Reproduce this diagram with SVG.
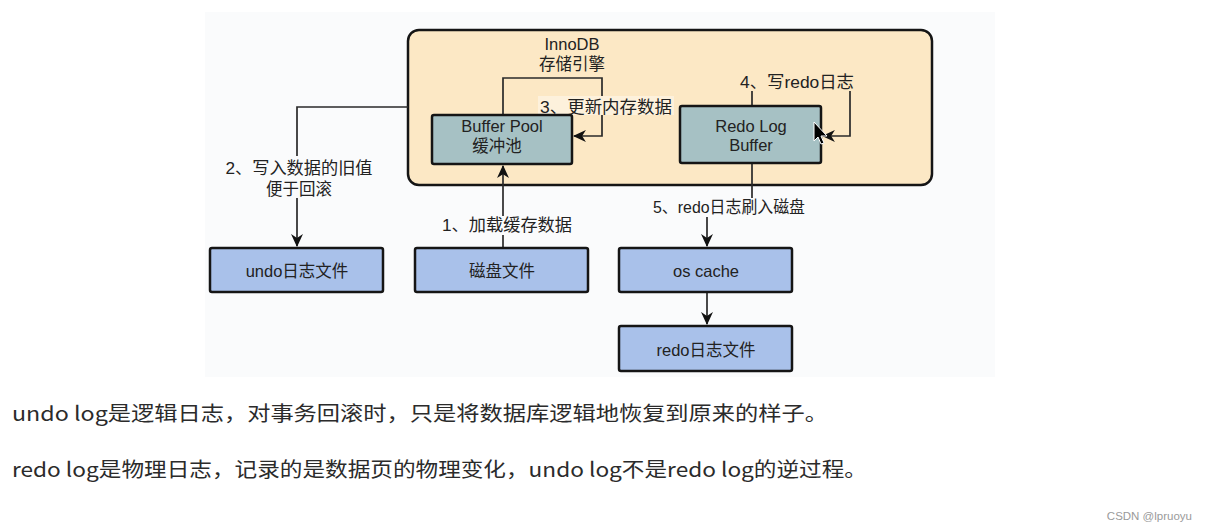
<svg xmlns="http://www.w3.org/2000/svg" width="1206" height="532" viewBox="0 0 1206 532">
  <style>
    .t { font-family: "Liberation Sans", "Noto Sans CJK SC", sans-serif; font-size: 16.5px; fill: #222; text-anchor: middle; }
    .box { stroke: #151515; stroke-width: 2.5; }
    .teal { fill: #a6c1c4; }
    .blue { fill: #a9c1ea; }
    .conn { fill: none; stroke: #2a2a2a; stroke-width: 1.7; }
    .para { font-family: "Noto Sans CJK SC", "Liberation Sans", sans-serif; font-size: 20px; fill: #2b2b2b; }
    .bg { fill: #fafbfc; }
  </style>
  <defs>
    <marker id="arr" viewBox="0 0 12 12" refX="11" refY="6" markerWidth="13" markerHeight="13" orient="auto" markerUnits="userSpaceOnUse">
      <path d="M0,0.5 L12,6 L0,11.5 L3.5,6 z" fill="#111"/>
    </marker>
  </defs>
  <rect x="0" y="0" width="1206" height="532" fill="#ffffff"/>
  <rect class="bg" x="205" y="12" width="790" height="365"/>

  <g id="innodb">
    <rect class="box" x="408" y="30" width="524" height="155" rx="11" fill="#fce8c5"/>
    <text class="t" x="572" y="50">InnoDB</text>
    <text class="t" x="572" y="70">存储引擎</text>
  </g>

  <g id="connectors">
    <path class="conn" d="M503,115 V78 H602 V136 H574" marker-end="url(#arr)"/>
    <path class="conn" d="M752,106 V82 H850 V136 H823" marker-end="url(#arr)"/>
    <path class="conn" d="M503,248 V166" marker-end="url(#arr)"/>
    <path class="conn" d="M408,107 H297 V246" marker-end="url(#arr)"/>
    <path class="conn" d="M752,164 V207 H707 V246" marker-end="url(#arr)"/>
    <path class="conn" d="M707,293 V324" marker-end="url(#arr)"/>
  </g>

  <g id="labels">
    <rect x="538" y="96" width="136" height="19" fill="#fdf1dc"/>
    <text class="t" x="606" y="113" textLength="132" lengthAdjust="spacingAndGlyphs">3、更新内存数据</text>
    <rect x="738" y="71" width="118" height="20" fill="#fce8c5"/>
    <text class="t" x="797" y="88" textLength="114" lengthAdjust="spacingAndGlyphs">4、写redo日志</text>
    <rect class="bg" x="651" y="198" width="156" height="19"/>
    <text class="t" x="729" y="213" textLength="152" lengthAdjust="spacingAndGlyphs">5、redo日志刷入磁盘</text>
    <rect class="bg" x="440" y="216" width="134" height="19"/>
    <text class="t" x="507" y="231" textLength="130" lengthAdjust="spacingAndGlyphs">1、加载缓存数据</text>
    <rect class="bg" x="224" y="156" width="151" height="42"/>
    <text class="t" x="299" y="174" textLength="147" lengthAdjust="spacingAndGlyphs">2、写入数据的旧值</text>
    <text class="t" x="299" y="195">便于回滚</text>
  </g>

  <g id="buffer-pool">
    <rect class="box teal" x="432" y="115" width="140" height="49" rx="2"/>
    <text class="t" x="502" y="132">Buffer Pool</text>
    <text class="t" x="497" y="152">缓冲池</text>
  </g>

  <g id="redo-log-buffer">
    <rect class="box teal" x="680" y="106" width="141" height="57" rx="2"/>
    <text class="t" x="751" y="132">Redo Log</text>
    <text class="t" x="751" y="151">Buffer</text>
  </g>

  <g id="undo-file">
    <rect class="box blue" x="210" y="248" width="173" height="44" rx="2"/>
    <text class="t" x="297" y="277">undo日志文件</text>
  </g>

  <g id="disk-file">
    <rect class="box blue" x="415" y="248" width="173" height="44" rx="2"/>
    <text class="t" x="502" y="277">磁盘文件</text>
  </g>

  <g id="os-cache">
    <rect class="box blue" x="619" y="248" width="173" height="44" rx="2"/>
    <text class="t" x="706" y="277">os cache</text>
  </g>

  <g id="redo-file">
    <rect class="box blue" x="619" y="326" width="173" height="45" rx="2"/>
    <text class="t" x="706" y="356">redo日志文件</text>
  </g>

  <path d="M814,122 L814,141 L818,137 L821,144 L824,143 L821,136 L827,136 Z" fill="#000" stroke="#fff" stroke-width="1"/>

  <text class="para" x="12" y="421" textLength="816" lengthAdjust="spacingAndGlyphs">undo log是逻辑日志，对事务回滚时，只是将数据库逻辑地恢复到原来的样子。</text>
  <text class="para" x="12" y="477" textLength="855" lengthAdjust="spacingAndGlyphs">redo log是物理日志，记录的是数据页的物理变化，undo log不是redo log的逆过程。</text>

  <text x="1192" y="520" font-family="Liberation Sans, sans-serif" font-size="11.5" fill="#9a9a9a" text-anchor="end">CSDN @lpruoyu</text>
</svg>
